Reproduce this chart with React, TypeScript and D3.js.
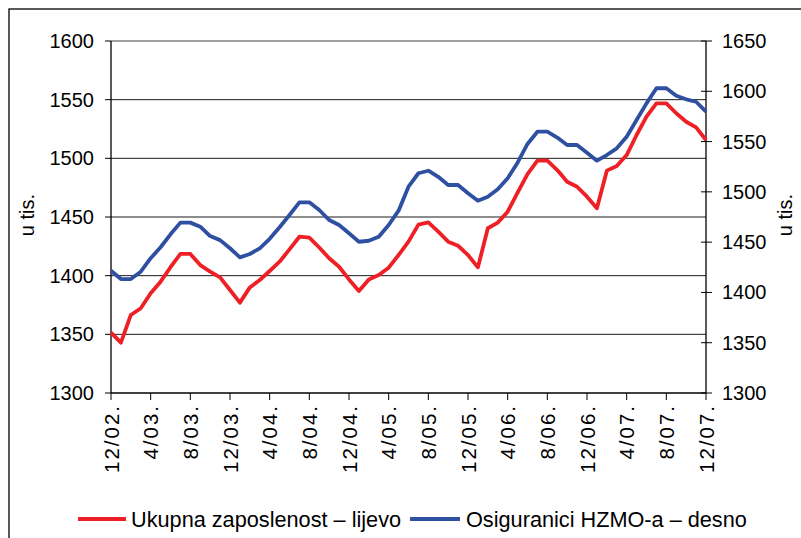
import React from "react";
import * as d3 from "d3";

// Monthly data 12/02. – 12/07.
const tickLabels = ["12/02.", "4/03.", "8/03.", "12/03.", "4/04.", "8/04.", "12/04.", "4/05.", "8/05.", "12/05.", "4/06.", "8/06.", "12/06.", "4/07.", "8/07.", "12/07."];

// Ukupna zaposlenost (left axis, thousands)
const employment = [
  1351.4, 1342.9, 1366.5, 1372.2, 1385.0, 1394.9, 1407.2, 1418.5, 1418.5, 1409.0, 1403.4, 1398.6, 1387.8, 1377.0, 1390.0, 1396.3, 1404.0,
  1411.9, 1422.4, 1433.2, 1432.4, 1424.0, 1414.8, 1407.6, 1396.8, 1386.9, 1396.8, 1400.6, 1406.8, 1417.6, 1429.0, 1443.5,
  1445.4, 1437.5, 1429.0, 1425.5, 1417.6, 1407.1, 1440.4, 1445.2, 1454.5, 1470.8, 1486.6, 1498.0, 1498.0,
  1490.0, 1480.1, 1475.8, 1467.3, 1457.4, 1489.5, 1493.5, 1502.8, 1519.9, 1535.5, 1546.9, 1546.9, 1538.4, 1531.2, 1526.4, 1515.6,
];

// Osiguranici HZMO-a (right axis, thousands)
const insured = [
  1421.6, 1413.3, 1413.3, 1420.6, 1434.0, 1444.9, 1457.8, 1469.4, 1469.4, 1465.4, 1456.0, 1452.0, 1443.9, 1434.9, 1438.2, 1443.9, 1453.3,
  1464.8, 1477.0, 1489.6, 1489.6, 1482.0, 1472.0, 1467.0, 1458.8, 1450.4, 1451.4, 1455.4, 1467.0, 1481.3, 1505.1, 1518.5,
  1521.0, 1515.0, 1506.8, 1506.8, 1498.6, 1491.2, 1495.2, 1502.5, 1513.5, 1529.0, 1547.6, 1559.8, 1559.8,
  1554.0, 1546.6, 1546.6, 1538.9, 1531.0, 1536.6, 1543.3, 1554.8, 1571.4, 1588.0, 1603.0, 1603.0, 1595.6, 1592.0, 1589.6, 1579.7,
];

const leftTicks = [1300, 1350, 1400, 1450, 1500, 1550, 1600];
const rightTicks = [1300, 1350, 1400, 1450, 1500, 1550, 1600, 1650];
const seriesNames = ["Ukupna zaposlenost – lijevo", "Osiguranici HZMO-a – desno"];
const axisTitle = "u tis.";

const RED = "#EE2026";
const BLUE = "#2F50A1";
const FONT = "'Liberation Sans', Arial, sans-serif";

export default function App() {
  const left = 111, right = 706, top = 41, bottom = 393;
  const x = d3.scaleLinear().domain([0, employment.length - 1]).range([left, right]);
  const yL = d3.scaleLinear().domain([1300, 1600]).range([bottom, top]);
  const yR = d3.scaleLinear().domain([1300, 1650]).range([bottom, top]);

  const lineL = d3.line<number>().x((_, i) => x(i)).y((d) => yL(d));
  const lineR = d3.line<number>().x((_, i) => x(i)).y((d) => yR(d));

  const tickIdx = tickLabels.map((_, k) => k * 4);

  return (
    <svg width={801} height={538} style={{ position: "absolute", left: 0, top: 0, background: "#fff" }} fontFamily={FONT}>
      <rect x={0} y={0} width={801} height={538} fill="#fff" />
      {/* outer frame */}
      <rect x={9} y={9} width={900} height={700} fill="none" stroke="#000" strokeWidth={1.3} />

      {/* gridlines */}
      {leftTicks.filter((t) => t !== 1300 && t !== 1600).map((t) => (
        <line key={"g" + t} x1={left} x2={right} y1={yL(t)} y2={yL(t)} stroke="#1a1a1a" strokeWidth={1} />
      ))}
      <line x1={left} x2={right} y1={top} y2={top} stroke="#808080" strokeWidth={1.3} />

      {/* left axis */}
      <line x1={left} x2={left} y1={top} y2={bottom} stroke="#000" strokeWidth={1.3} />
      {leftTicks.map((t) => (
        <g key={"l" + t}>
          <line x1={left - 6} x2={left} y1={yL(t)} y2={yL(t)} stroke="#000" strokeWidth={1} />
          <text x={94} y={yL(t)} textAnchor="end" dominantBaseline="central" fontSize={20} fill="#000">{t}</text>
        </g>
      ))}

      {/* right axis */}
      <line x1={right} x2={right} y1={top} y2={bottom} stroke="#000" strokeWidth={1.3} />
      {rightTicks.map((t) => (
        <g key={"r" + t}>
          <line x1={right - 5} x2={right + 6} y1={yR(t)} y2={yR(t)} stroke="#000" strokeWidth={1} />
          <text x={722} y={yR(t)} textAnchor="start" dominantBaseline="central" fontSize={20} fill="#000">{t}</text>
        </g>
      ))}

      {/* x axis */}
      <line x1={left} x2={right} y1={bottom} y2={bottom} stroke="#000" strokeWidth={1.3} />
      {tickIdx.map((i, k) => (
        <g key={"x" + i}>
          <line x1={x(i)} x2={x(i)} y1={bottom} y2={bottom + 7} stroke="#000" strokeWidth={1} />
          <text
            transform={`translate(${x(i)},404) rotate(-90)`}
            textAnchor="end"
            dominantBaseline="central"
            fontSize={20.5}
            letterSpacing={2}
            fill="#000"
          >
            {tickLabels[k]}
          </text>
        </g>
      ))}

      {/* axis titles */}
      <text transform={`translate(27,215) rotate(-90)`} textAnchor="middle" dominantBaseline="central" fontSize={20} fill="#000">{axisTitle}</text>
      <text transform={`translate(785,215) rotate(-90)`} textAnchor="middle" dominantBaseline="central" fontSize={20} fill="#000">{axisTitle}</text>

      {/* series */}
      <path d={lineR(insured) || ""} fill="none" stroke={BLUE} strokeWidth={3.8} strokeLinejoin="round" />
      <path d={lineL(employment) || ""} fill="none" stroke={RED} strokeWidth={3.8} strokeLinejoin="round" />

      {/* legend */}
      <line x1={78} x2={126} y1={519} y2={519} stroke={RED} strokeWidth={4} />
      <text x={131} y={519} dominantBaseline="central" fontSize={21.7} fill="#000">{seriesNames[0]}</text>
      <line x1={410} x2={460} y1={519} y2={519} stroke={BLUE} strokeWidth={4} />
      <text x={466} y={519} dominantBaseline="central" fontSize={21.7} fill="#000">{seriesNames[1]}</text>
    </svg>
  );
}
